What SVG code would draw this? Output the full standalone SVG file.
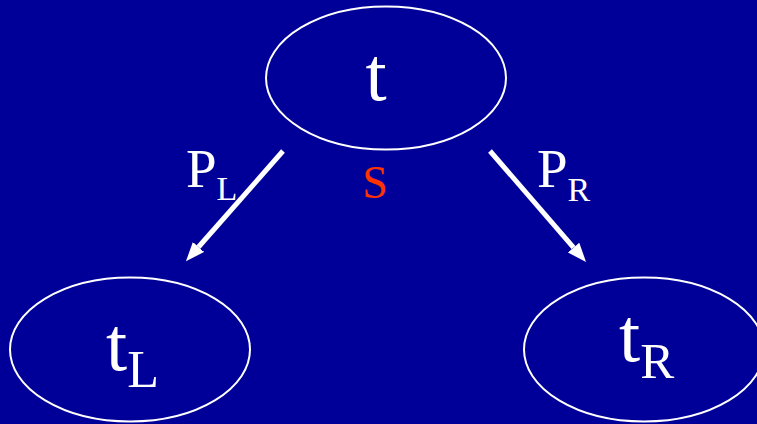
<svg xmlns="http://www.w3.org/2000/svg" width="757" height="424" viewBox="0 0 757 424">
  <style>
    .node { fill: none; stroke: #ffffff; stroke-width: 2; }
    .lbl { font-family: "Liberation Serif", "Times New Roman", serif; fill: #ffffff; }
    .edge { stroke: #ffffff; stroke-width: 5; fill: none; marker-end: url(#head); }
  </style>
  <defs>
    <marker id="head" markerUnits="userSpaceOnUse" markerWidth="20" markerHeight="16" refX="0" refY="7.5" orient="auto">
      <path d="M0,0 L19,7.5 L0,15 z" fill="#ffffff"/>
    </marker>
  </defs>
  <rect x="0" y="0" width="757" height="424" fill="#000099"/>
  <g id="connectors">
    <line class="edge" x1="283" y1="151" x2="198.5" y2="247"/>
    <line class="edge" x1="490" y1="151" x2="573.6" y2="247.6"/>
  </g>
  <g id="node-t">
    <ellipse class="node" cx="386" cy="78" rx="120" ry="71.5"/>
    <text class="lbl" x="376" y="100" font-size="76" text-anchor="middle">t</text>
  </g>
  <g id="node-tL">
    <ellipse class="node" cx="130" cy="349.5" rx="120" ry="72"/>
    <text class="lbl" x="106" y="370" font-size="76">t<tspan font-size="52" dy="17">L</tspan></text>
  </g>
  <g id="node-tR">
    <ellipse class="node" cx="644" cy="349.5" rx="120" ry="72"/>
    <text class="lbl" x="619" y="361" font-size="76">t<tspan font-size="51" dy="17">R</tspan></text>
  </g>
  <g id="label-PL">
    <text class="lbl" x="186" y="187" font-size="55">P<tspan font-size="34" dy="13">L</tspan></text>
  </g>
  <g id="label-PR">
    <text class="lbl" x="537" y="187" font-size="55">P<tspan font-size="34" dy="14">R</tspan></text>
  </g>
  <g id="label-S">
    <text class="lbl" x="375" y="198" font-size="46" text-anchor="middle" style="fill:#ff3300">S</text>
  </g>
</svg>
